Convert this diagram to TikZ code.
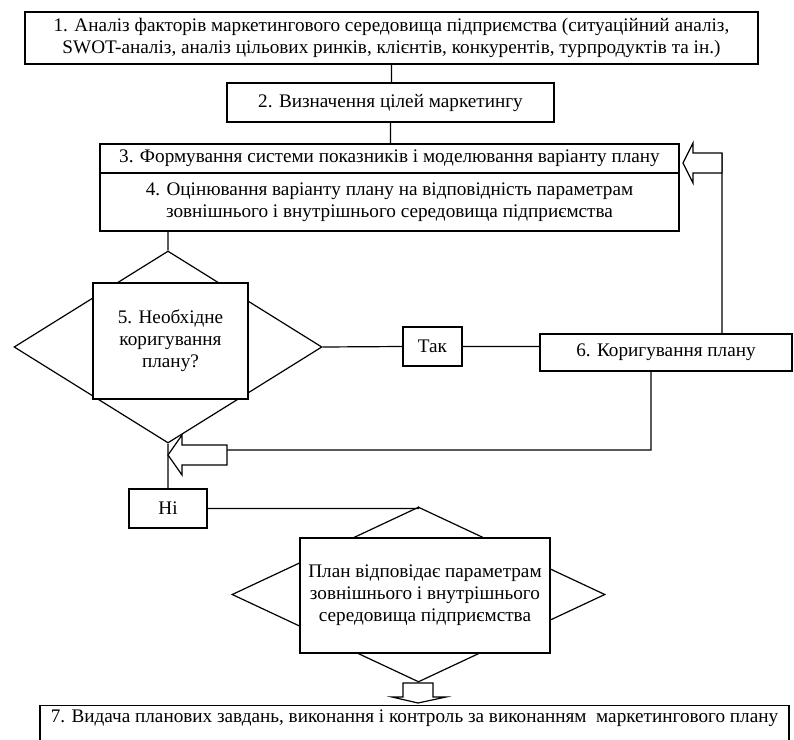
\documentclass[tikz,border=0pt]{standalone}
\usepackage{fontspec}
\setmainfont{Liberation Serif}
\usepackage{tikz}
\usetikzlibrary{shapes.geometric}

\begin{document}
\begin{tikzpicture}[x=0.5pt,y=-0.5pt, line width=0.6pt,
  every node/.style={font=\fontsize{9.6}{11}\selectfont},
  blok/.style={draw, rectangle, inner sep=0pt, align=center, fill=white},
  romb/.style={draw, diamond, inner sep=0pt},
  strilka/.style={draw, fill=white, line join=miter}]
\useasboundingbox (0,0) rectangle (794,740);

\node[blok, minimum width=366.5pt, minimum height=26pt] (an1) at (391.5,38)
  {1. Аналіз факторів маркетингового середовища підприємства (ситуаційний аналіз,\\
   SWOT-аналіз, аналіз цільових ринків, клієнтів, конкурентів, турпродуктів та ін.)};
\node[blok, minimum width=163.5pt, minimum height=19.5pt] (vyz) at (390.5,102.5)
  {2. Визначення цілей маркетингу};
\node[blok, minimum width=289.5pt, minimum height=14.5pt] (form) at (389.5,158.5)
  {3. Формування системи показників і моделювання варіанту плану};
\node[blok, minimum width=289.5pt, minimum height=29pt] (otsin) at (389.5,202)
  {4. Оцінювання варіанту плану на відповідність параметрам\\
   зовнішнього і внутрішнього середовища підприємства};

\node[romb, minimum width=154pt, minimum height=96pt] (d5) at (168,347) {};
\node[blok, minimum width=77.5pt, minimum height=58pt] (r5) at (170.5,341)
  {5. Необхідне\\ коригування\\ плану?};
\node[blok, minimum width=29.5pt, minimum height=19.5pt] (tak) at (432.5,346.5) {Так};
\node[blok, minimum width=126pt, minimum height=18.5pt] (kor) at (666,352.5)
  {6. Коригування плану};
\node[blok, minimum width=39pt, minimum height=19.5pt] (ni) at (168,508.5) {Ні};

\node[romb, minimum width=186.5pt, minimum height=87.5pt] (d7) at (418.5,594.5) {};
\node[blok, minimum width=125pt, minimum height=57.5pt] (r7) at (425,595.5)
  {План відповідає параметрам\\ зовнішнього і внутрішнього\\ середовища підприємства};
\node[blok, anchor=north, minimum width=374.5pt, inner ysep=1.5pt, text height=7pt,
  text depth=12pt] (vyd) at (414.5,705)
  {7. Видача планових завдань, виконання і контроль за виконанням\ \ маркетингового плану};

\coordinate (a3) at (722,153);
\coordinate (a5) at (227,450);
\coordinate (kz) at (651,450);
\coordinate (a7) at (418,683);

\draw (an1.south) -- (an1.south |- vyz.north)
  (vyz.south) -- (vyz.south |- form.north)
  (d5.north |- otsin.south) -- (d5.north)
  (d5.east) -- (tak.west)
  (tak.east) -- (tak.east -| kor.west)
  (a3) -- (a3 |- kor.north)
  (kor.south -| kz) -- (kz) -- (a5)
  (d5.south) -- (ni.north)
  (ni.east) -| (d7.north)
  (d7.south) -- (a7);

% pusti strilky
\draw[strilka] (683,163) -- (693,143) -- (693,153) -- (722,153) -- (722,173)
  -- (693,173) -- (693,183) -- cycle;
\draw[strilka] (168,455) -- (182,435) -- (182,445) -- (227,445) -- (227,465)
  -- (182,465) -- (182,475) -- cycle;
\draw[strilka] (403,683) -- (433,683) -- (433,697) -- (446,697) -- (418,703)
  -- (392,697) -- (403,697) -- cycle;

\end{tikzpicture}
\end{document}
